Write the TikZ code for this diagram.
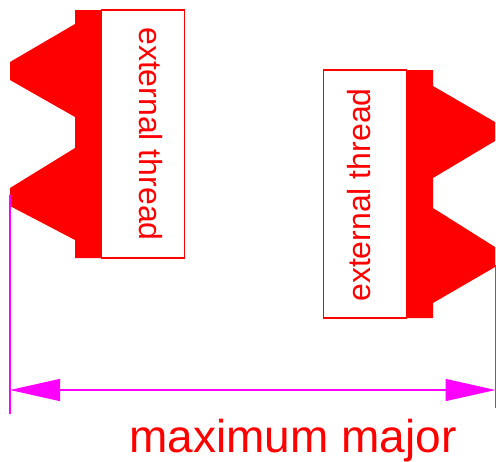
\documentclass[tikz,border=0pt]{standalone}
\usepackage{fontspec}
\setmainfont{Liberation Sans}
\usepackage{tikz}
\usetikzlibrary{arrows.meta, positioning}
\definecolor{dimmagenta}{RGB}{255,0,255}

\begin{document}
\begin{tikzpicture}[x=0.75pt, y=-0.75pt, threadfill/.style={fill=red}, threadbox/.style={rectangle,draw=red,fill=white,line width=1pt,minimum width=62.25pt,minimum height=186pt,inner sep=0pt}, threadlabel/.style={text=red,font=\fontsize{24}{24}\selectfont,inner sep=0pt}, extline/.style={draw=dimmagenta,line width=1pt}, dimline/.style={draw=dimmagenta,line width=1pt,{Triangle[length=37.5pt,width=16.5pt,fill=dimmagenta]}-{Triangle[length=37.5pt,width=16.5pt,fill=dimmagenta]}}]
        \useasboundingbox (0,0) rectangle (496,461);
        \fill[threadfill] (75,10) -- (75,24) -- (10,62) -- (10,80) -- (75,117) -- (75,148) -- (10,188) -- (10,206) -- (75,240) -- (75,258) -- (102,258) -- (102,10) -- cycle;
        \fill[threadfill] (433,70) -- (433,86) -- (495,122) -- (495,141) -- (433,178) -- (433,208) -- (495,247) -- (495,267) -- (433,303) -- (433,318) -- (407,318) -- (407,70) -- cycle;
        \node[threadbox] (leftbox) at (143,134) {};
        \node[threadbox] (rightbox) at (365,194) {};
        \node[threadlabel, rotate=-90] (leftlabel) at (150.5,134) {external thread};
        \node[threadlabel, rotate=90] (rightlabel) at (359,195) {external thread};
        \coordinate (leftroot) at (10,195);
        \coordinate (leftfoot) at (10,414);
        \coordinate (rightroot) at (495.5,265);
        \coordinate (rightfoot) at (495.5,408);
        \coordinate (dimleft) at (10,390);
        \coordinate (dimright) at (495.5,390);
        \draw[extline] (leftroot) -- (leftfoot);
        \draw[extline] (rightroot) -- (rightfoot);
        \draw[dimline] (dimleft) -- (dimright);
        \node[text=red, font=\fontsize{34.5}{34.5}\selectfont, inner sep=0pt, anchor=base] (dimlabel) at (293,452) {maximum major};
    \end{tikzpicture}
\end{document}
